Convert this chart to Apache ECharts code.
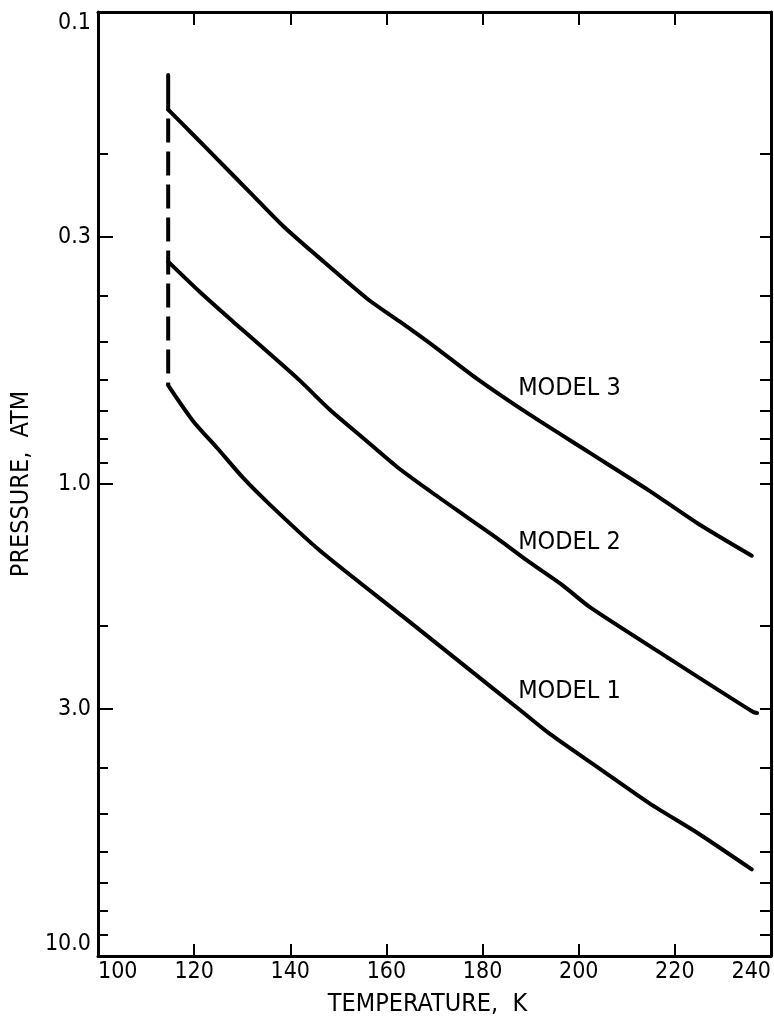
<!DOCTYPE html>
<html>
<head>
<meta charset="utf-8">
<script src="https://cdn.jsdelivr.net/npm/echarts@6/dist/echarts.min.js"></script>
<style>
  html, body { margin: 0; padding: 0; background: #fff; }
  #main { width: 774px; height: 1022px; }
</style>
</head>
<body>
<div id="main"></div>
<script>
// [temperature K, pressure atm]
var model1 = [[114.6,0.618],[119.8,0.736],[124.8,0.839],[130.2,0.971],[135.8,1.107],[146.2,1.385],
  [163.2,1.901],[177.4,2.48],[187.8,3.012],[194.0,3.384],[204.4,4.013],
  [214.8,4.756],[225.2,5.527],[236.0,6.555]];
var model2 = [[114.6,0.338],[121.2,0.392],[128.1,0.453],[135.2,0.524],[142.0,0.604],[148.3,0.697],
  [155.2,0.800],[162.1,0.918],[169.1,1.036],[176.0,1.161],[182.9,1.300],[189.9,1.468],
  [196.8,1.644],[202.4,1.826],[218.4,2.328],[236.3,3.042],[237.1,3.056]];
var model3 = [[114.6,0.161],[119.8,0.182],[124.8,0.205],[131.6,0.241],[138.5,0.284],
  [145.6,0.329],[156.0,0.405],[162.8,0.453],[169.7,0.509],[178.8,0.598],
  [189.9,0.714],[202.4,0.860],[214.8,1.035],[225.2,1.22],[236.0,1.419]];
// vertical boundary at the left: solid stub above model 3, dashed below it
var boundaryTop = [[114.6,0.136],[114.6,0.161]];
var boundary = [[114.6,0.161],[114.6,0.618]];

var modelNames = ['MODEL 1', 'MODEL 2', 'MODEL 3'];
var modelLabelAt = [[187.4,2.747],[187.4,1.332],[187.4,0.627]];

var yLabelValues = [0.1, 0.3, 1, 3, 10];
var yLabelText = ['0.1', '0.3', '1.0', '3.0', '10.0'];
var yMajorTicks = [0.3, 1, 3];
var yMinorTicks = [0.2,0.3,0.4,0.5,0.6,0.7,0.8,0.9,1,2,3,4,5,6,7,8,9];

var FONT = '"DejaVu Sans Condensed", "Liberation Sans Narrow", "DejaVu Sans", sans-serif';
var INK = '#000';

var chart = echarts.init(document.getElementById('main'), null, { renderer: 'canvas' });

function yFmt(v) {
  for (var i = 0; i < yLabelValues.length; i++) {
    if (Math.abs(Math.log10(v) - Math.log10(yLabelValues[i])) < 0.01) return yLabelText[i];
  }
  return '';
}

function logAxis(extra) {
  var ax = {
    type: 'log',
    logBase: 10,
    min: 0.1,
    max: 10,
    inverse: true,
    splitLine: { show: false },
    axisLine: { show: true, lineStyle: { color: INK, width: 3 } },
    axisLabel: { show: false },
    axisTick: { show: false }
  };
  return Object.assign(ax, extra);
}

function modelSeries(name, data, i) {
  return {
    name: name,
    type: 'line',
    data: data,
    showSymbol: false,
    symbol: 'none',
    smooth: 0.25,
    lineStyle: { color: INK, width: 4, cap: 'round', join: 'round' },
    markPoint: {
      symbol: 'circle',
      symbolSize: 0,
      data: [{ coord: modelLabelAt[i] }],
      label: {
        show: true,
        position: 'right',
        distance: 0,
        formatter: name,
        color: INK,
        fontFamily: FONT,
        fontSize: 25
      }
    }
  };
}

var option = {
  animation: false,
  backgroundColor: '#fff',
  grid: { left: 98, right: 3, top: 12, bottom: 62 },
  xAxis: [
    {
      type: 'value',
      min: 100,
      max: 240,
      interval: 20,
      position: 'bottom',
      name: 'TEMPERATURE,  K',
      nameLocation: 'middle',
      nameGap: 36,
      nameTextStyle: { color: INK, fontFamily: FONT, fontSize: 25, padding: [0, 14, 0, 0] },
      splitLine: { show: false },
      axisLine: { show: true, lineStyle: { color: INK, width: 3 } },
      axisTick: { show: true, inside: true, length: 12, lineStyle: { color: INK, width: 2 } },
      axisLabel: {
        color: INK, fontFamily: FONT, fontSize: 23, margin: 5,
        alignMinLabel: 'left', alignMaxLabel: 'right'
      }
    },
    {
      type: 'value',
      min: 100,
      max: 240,
      interval: 20,
      position: 'top',
      splitLine: { show: false },
      axisLine: { show: true, lineStyle: { color: INK, width: 3 } },
      axisTick: { show: true, inside: true, length: 13, lineStyle: { color: INK, width: 2 } },
      axisLabel: { show: false }
    }
  ],
  yAxis: [
    logAxis({
      position: 'left',
      name: 'PRESSURE,  ATM',
      nameLocation: 'middle',
      nameGap: 64,
      nameRotate: 90,
      nameTextStyle: { color: INK, fontFamily: FONT, fontSize: 25 },
      axisTick: { show: true, inside: true, length: 10, customValues: yMinorTicks, lineStyle: { color: INK, width: 2 } },
      axisLabel: {
        show: true, color: INK, fontFamily: FONT, fontSize: 23, margin: 7,
        customValues: yLabelValues, formatter: yFmt,
        verticalAlignMinLabel: 'top', verticalAlignMaxLabel: 'bottom'
      }
    }),
    logAxis({
      position: 'left',
      axisLine: { show: false },
      axisTick: { show: true, inside: true, length: 15, customValues: yMajorTicks, lineStyle: { color: INK, width: 2 } }
    }),
    logAxis({
      position: 'right',
      axisTick: { show: true, inside: true, length: 11, customValues: yMinorTicks, lineStyle: { color: INK, width: 2 } }
    })
  ],
  series: [
    modelSeries(modelNames[0], model1, 0),
    modelSeries(modelNames[1], model2, 1),
    modelSeries(modelNames[2], model3, 2),
    {
      name: 'boundaryTop',
      type: 'line',
      data: boundaryTop,
      symbol: 'none',
      lineStyle: { color: INK, width: 4, cap: 'round' }
    },
    {
      name: 'boundary',
      type: 'line',
      data: boundary,
      symbol: 'none',
      lineStyle: { color: INK, width: 4, type: [24, 9], dashOffset: 24 }
    }
  ]
};

chart.setOption(option);
</script>
</body>
</html>
